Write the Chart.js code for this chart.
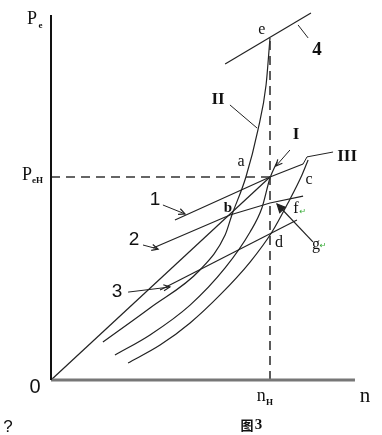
<!DOCTYPE html>
<html><head><meta charset="utf-8">
<script src="https://cdn.jsdelivr.net/npm/chart.js@4.4.1/dist/chart.umd.min.js"></script>
<style>html,body{margin:0;padding:0;background:#fff}canvas{display:block}</style>
</head><body>
<canvas id="c" width="382" height="435"></canvas>
<script>
// relative speed n/nH and relative power Pe/PeH
const straightN = [0, 1];
const straightP = [0, 1];
const curveIIN = [0.237, 0.452, 0.680, 0.795, 0.826, 0.890, 0.945, 0.982, 1.000];
const curveIIP = [0.187, 0.355, 0.542, 0.714, 0.813, 1.000, 1.232, 1.453, 1.685];
const curveIN = [0.292, 0.452, 0.635, 0.795, 0.909, 0.963, 1.000, 1.032];
const curveIP = [0.123, 0.222, 0.369, 0.552, 0.729, 0.847, 0.995, 1.074];
const curveCN = [0.352, 0.498, 0.635, 0.772, 0.909, 1.009, 1.082, 1.146, 1.174];
const curveCP = [0.084, 0.172, 0.281, 0.419, 0.581, 0.729, 0.872, 1.010, 1.084];
const line1N = [0.566, 1.000, 1.151];
const line1P = [0.788, 1.000, 1.064];
const line2N = [0.466, 0.817, 1.000, 1.151];
const line2P = [0.650, 0.813, 0.872, 0.906];
const line3N = [0.498, 1.123];
const line3P = [0.443, 0.788];
const line4N = [0.795, 1.187];
const line4P = [1.557, 1.808];
const ratedN = 1, ratedP = 1, peakP = 1.685;
const axisNMax = 1.388, axisPMax = 1.798;

const pts = (xs, ys) => xs.map((x, i) => ({x, y: ys[i]}));
const ink = '#222';
function ds(data, opts) {
  return Object.assign({data, showLine: true, pointRadius: 0, borderColor: ink, borderWidth: 1.2, fill: false, tension: 0}, opts || {});
}
const curve = {cubicInterpolationMode: 'monotone'};

const datasets = [
  ds(pts([0, 0], [0, axisPMax]), {borderColor: '#111', borderWidth: 2}),
  ds(pts([0, axisNMax], [0, 0]), {borderColor: '#777', borderWidth: 3}),
  ds(pts([0, ratedN], [ratedP, ratedP]), {borderDash: [9, 6], borderWidth: 1.6, borderColor: '#333'}),
  ds(pts([ratedN, ratedN], [0, peakP]), {borderDash: [9, 6], borderWidth: 1.6, borderColor: '#333'}),
  ds(pts(straightN, straightP)),
  ds(pts(curveIIN, curveIIP), curve),
  ds(pts(curveIN, curveIP), curve),
  ds(pts(curveCN, curveCP), curve),
  ds(pts(line1N, line1P)),
  ds(pts(line2N, line2P)),
  ds(pts(line3N, line3P)),
  ds(pts(line4N, line4P)),
  // leaders
  ds(pts([1.151, 1.169, 1.288], [1.064, 1.099, 1.123]), {borderWidth: 1}),
  ds(pts([0.511, 0.612], [0.862, 0.818]), {borderWidth: 1, arrow: 'open'}),
  ds(pts([0.420, 0.489], [0.665, 0.645]), {borderWidth: 1, arrow: 'open'}),
  ds(pts([0.352, 0.543], [0.433, 0.458]), {borderWidth: 1, arrow: 'open'}),
  ds(pts([0.817, 0.941], [1.355, 1.241]), {borderWidth: 1}),
  ds(pts([1.091, 1.027], [1.133, 1.054]), {borderWidth: 1, arrow: 'open'}),
  ds(pts([1.128, 1.174], [1.749, 1.685]), {borderWidth: 1}),
  ds(pts([1.196, 1.032], [0.680, 0.867]), {borderWidth: 1.2, arrow: 'filled'})
];

const labels = [
  {t: 'P', n: -0.087, p: 1.778, f: '18px "Liberation Serif"'},
  {t: 'e', n: -0.048, p: 1.745, f: 'bold 9px "Liberation Serif"'},
  {t: 'P', n: -0.110, p: 1.010, f: '18px "Liberation Serif"'},
  {t: 'eH', n: -0.062, p: 0.980, f: 'bold 9px "Liberation Serif"'},
  {t: '0', n: -0.073, p: -0.036, f: '20px "Liberation Sans"'},
  {t: 'n', n: 0.960, p: -0.082, f: '18px "Liberation Serif"'},
  {t: 'H', n: 0.998, p: -0.110, f: 'bold 9px "Liberation Serif"'},
  {t: 'n', n: 1.434, p: -0.079, f: '21px "Liberation Serif"'},
  {t: 'e', n: 0.963, p: 1.724, f: '16px "Liberation Serif"'},
  {t: '4', n: 1.215, p: 1.626, f: 'bold 19px "Liberation Serif"'},
  {t: 'II', n: 0.763, p: 1.379, f: 'bold 17px "Liberation Serif"'},
  {t: 'I', n: 1.119, p: 1.207, f: 'bold 17px "Liberation Serif"'},
  {t: 'III', n: 1.352, p: 1.099, f: 'bold 17px "Liberation Serif"'},
  {t: 'a', n: 0.868, p: 1.074, f: '16px "Liberation Serif"'},
  {t: 'b', n: 0.808, p: 0.847, f: 'bold 15px "Liberation Serif"'},
  {t: 'c', n: 1.178, p: 0.985, f: '16px "Liberation Serif"'},
  {t: 'd', n: 1.041, p: 0.675, f: '16px "Liberation Serif"'},
  {t: 'f', n: 1.118, p: 0.842, f: '16px "Liberation Serif"'},
  {t: '\u21B5', n: 1.150, p: 0.830, f: '8px "DejaVu Sans"', c: '#3a3'},
  {t: 'g', n: 1.210, p: 0.668, f: '16px "Liberation Serif"'},
  {t: '\u21B5', n: 1.243, p: 0.662, f: '8px "DejaVu Sans"', c: '#3a3'},
  {t: '1', n: 0.475, p: 0.887, f: '19px "Liberation Sans"'},
  {t: '2', n: 0.379, p: 0.690, f: '19px "Liberation Sans"'},
  {t: '3', n: 0.301, p: 0.433, f: '19px "Liberation Sans"'},
  {t: '图', n: 0.895, p: -0.222, f: 'bold 13px "Noto Sans CJK SC"'},
  {t: '3', n: 0.947, p: -0.222, f: 'bold 15px "Liberation Serif"'},
  {t: '?', n: -0.196, p: -0.232, f: '17px "Liberation Sans"'}
];

const annot = {
  id: 'annot',
  afterDatasetsDraw(chart) {
    const ctx = chart.ctx, xs = chart.scales.x, ys = chart.scales.y;
    ctx.save();
    chart.data.datasets.forEach(d => {
      if (!d.arrow) return;
      const a = d.data[d.data.length - 2], b = d.data[d.data.length - 1];
      const x1 = xs.getPixelForValue(a.x), y1 = ys.getPixelForValue(a.y);
      const x2 = xs.getPixelForValue(b.x), y2 = ys.getPixelForValue(b.y);
      const ang = Math.atan2(y2 - y1, x2 - x1), L = d.arrow === 'filled' ? 9 : 7, w = 0.45;
      ctx.beginPath();
      ctx.moveTo(x2 - L * Math.cos(ang - w), y2 - L * Math.sin(ang - w));
      ctx.lineTo(x2, y2);
      ctx.lineTo(x2 - L * Math.cos(ang + w), y2 - L * Math.sin(ang + w));
      ctx.strokeStyle = ink; ctx.lineWidth = 1.2;
      if (d.arrow === 'filled') { ctx.closePath(); ctx.fillStyle = ink; ctx.fill(); }
      ctx.stroke();
    });
    ctx.textAlign = 'center'; ctx.textBaseline = 'middle';
    labels.forEach(l => {
      ctx.font = l.f; ctx.fillStyle = l.c || '#111';
      ctx.fillText(l.t, xs.getPixelForValue(l.n), ys.getPixelForValue(l.p));
    });
    ctx.restore();
  }
};

new Chart(document.getElementById('c'), {
  type: 'scatter',
  data: {datasets},
  options: {
    responsive: false, animation: false,
    layout: {padding: 0},
    plugins: {legend: {display: false}, tooltip: {enabled: false}},
    scales: {
      x: {type: 'linear', display: false, min: -0.2329, max: 1.5114},
      y: {type: 'linear', display: false, min: -0.2709, max: 1.8719}
    }
  },
  plugins: [annot]
});
</script>
</body></html>
